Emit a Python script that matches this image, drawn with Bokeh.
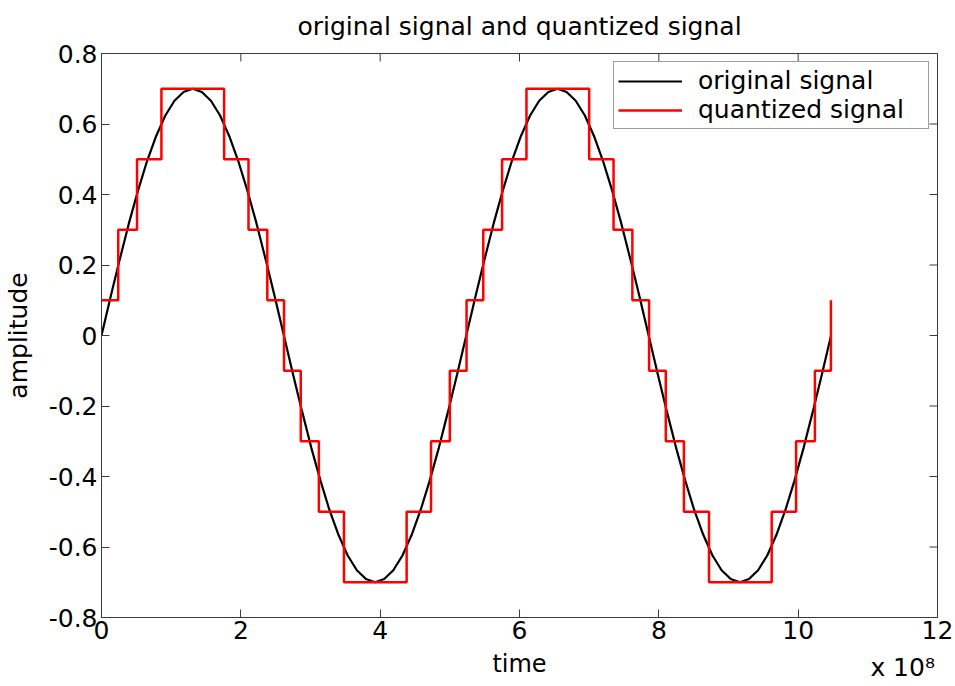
from bokeh.plotting import figure
from bokeh.models import FixedTicker, Range1d, LinearAxis
from bokeh.embed import file_html
from bokeh.resources import INLINE

# time axis in units of 1e8
time_1e8 = [0.000, 0.131, 0.262, 0.393, 0.524, 0.654, 0.785, 0.916, 1.047, 1.178,
            1.309, 1.440, 1.571, 1.702, 1.833, 1.963, 2.094, 2.225, 2.356, 2.487,
            2.618, 2.749, 2.880, 3.011, 3.142, 3.272, 3.403, 3.534, 3.665, 3.796,
            3.927, 4.058, 4.189, 4.320, 4.451, 4.581, 4.712, 4.843, 4.974, 5.105,
            5.236, 5.367, 5.498, 5.629, 5.760, 5.890, 6.021, 6.152, 6.283, 6.414,
            6.545, 6.676, 6.807, 6.938, 7.069, 7.199, 7.330, 7.461, 7.592, 7.723,
            7.854, 7.985, 8.116, 8.247, 8.378, 8.508, 8.639, 8.770, 8.901, 9.032,
            9.163, 9.294, 9.425, 9.556, 9.687, 9.817, 9.948, 10.079, 10.210, 10.341,
            10.472]
original_signal = [0.000, 0.110, 0.216, 0.318, 0.411, 0.495, 0.566, 0.624, 0.666, 0.691,
                   0.700, 0.691, 0.666, 0.624, 0.566, 0.495, 0.411, 0.318, 0.216, 0.110,
                   0.000, -0.110, -0.216, -0.318, -0.411, -0.495, -0.566, -0.624, -0.666, -0.691,
                   -0.700, -0.691, -0.666, -0.624, -0.566, -0.495, -0.411, -0.318, -0.216, -0.110,
                   0.000, 0.110, 0.216, 0.318, 0.411, 0.495, 0.566, 0.624, 0.666, 0.691,
                   0.700, 0.691, 0.666, 0.624, 0.566, 0.495, 0.411, 0.318, 0.216, 0.110,
                   0.000, -0.110, -0.216, -0.318, -0.411, -0.495, -0.566, -0.624, -0.666, -0.691,
                   -0.700, -0.691, -0.666, -0.624, -0.566, -0.495, -0.411, -0.318, -0.216, -0.110,
                   0.000]

step_time = [0.00, 0.24, 0.51, 0.86, 1.76, 2.11, 2.38, 2.62, 2.86, 3.12, 3.48, 4.38, 4.73, 5.00,
             5.24, 5.48, 5.75, 6.10, 7.00, 7.35, 7.62, 7.86, 8.10, 8.36, 8.72, 9.62, 9.97, 10.24,
             10.47]
step_level = [0.1, 0.3, 0.5, 0.7, 0.5, 0.3, 0.1, -0.1, -0.3, -0.5, -0.7, -0.5, -0.3, -0.1,
              0.1, 0.3, 0.5, 0.7, 0.5, 0.3, 0.1, -0.1, -0.3, -0.5, -0.7, -0.5, -0.3, -0.1,
              0.1]

x_ticks = [0, 2, 4, 6, 8, 10, 12]
y_ticks = [-0.8, -0.6, -0.4, -0.2, 0.0, 0.2, 0.4, 0.6, 0.8]
y_tick_labels = ["-0.8", "-0.6", "-0.4", "-0.2", "0", "0.2", "0.4", "0.6", "0.8"]
x_exponent_pos = 11.5
x_exponent_text = "x 10\u2078"

FONT = "DejaVu Sans"
FS = "25px"
AXC = "#3a3a3a"

p = figure(width=955, height=686, output_backend="svg", toolbar_location=None,
           x_range=Range1d(x_ticks[0], x_ticks[-1]), y_range=Range1d(y_ticks[0], y_ticks[-1]),
           min_border_left=101, min_border_right=18, min_border_top=53, min_border_bottom=69,
           title="original signal and quantized signal", y_axis_label="amplitude")
p.xgrid.visible = False
p.ygrid.visible = False
p.outline_line_color = AXC
p.outline_line_width = 1
p.background_fill_color = "white"
p.border_fill_color = "white"

p.title.text_font = FONT
p.title.text_font_size = FS
p.title.text_font_style = "normal"
p.title.text_color = "black"
p.title.align = "center"
p.title.vertical_align = "top"
p.title.standoff = 22

p.line(time_1e8, original_signal, line_color="black", line_width=2.2, legend_label="original signal")
p.step(step_time, step_level, mode="after", line_color="#ff0000", line_width=2.5,
       legend_label="quantized signal")

# inward ticks on the top and right edges of the box (outer half is clipped by the frame)
p.scatter(x_ticks, [y_ticks[-1]] * len(x_ticks), marker="dash", angle=1.5708, size=16,
          line_color=AXC, line_width=1)
p.scatter([x_ticks[-1]] * len(y_ticks), y_ticks, marker="dash", size=16,
          line_color=AXC, line_width=1)

for ax in (p.xaxis[0], p.yaxis[0]):
    ax.major_tick_in = 8
    ax.major_tick_out = 0
    ax.minor_tick_in = 0
    ax.minor_tick_out = 0
    ax.axis_line_color = AXC
    ax.major_tick_line_color = AXC
    ax.major_label_text_font = FONT
    ax.major_label_text_font_size = FS
    ax.major_label_text_color = "black"
    ax.axis_label_text_font = FONT
    ax.axis_label_text_font_style = "normal"
    ax.axis_label_text_color = "black"

xa = p.xaxis[0]
ya = p.yaxis[0]
xa.ticker = FixedTicker(ticks=x_ticks)
ya.ticker = FixedTicker(ticks=y_ticks)
ya.major_label_overrides = dict(zip(y_ticks, y_tick_labels))
xa.major_label_standoff = 3
ya.major_label_standoff = 4
ya.axis_label_text_font_size = FS
ya.axis_label_standoff = 13

# second row under the x axis: the "time" label and the "x 10^8" exponent note
xb = LinearAxis(ticker=FixedTicker(ticks=[x_exponent_pos]),
                major_label_overrides={x_exponent_pos: x_exponent_text},
                axis_label="time")
xb.axis_line_color = None
xb.major_tick_in = 0
xb.major_tick_out = 0
xb.minor_tick_in = 0
xb.minor_tick_out = 0
xb.major_label_standoff = 11
xb.major_label_text_font = FONT
xb.major_label_text_font_size = FS
xb.major_label_text_color = "black"
xb.axis_label_text_font = FONT
xb.axis_label_text_font_size = "24px"
xb.axis_label_text_font_style = "normal"
xb.axis_label_text_color = "black"
xb.axis_label_standoff = -35
p.add_layout(xb, "below")

lg = p.legend[0]
lg.location = "top_right"
lg.margin = 8
lg.padding = 4
lg.spacing = 0
lg.glyph_width = 64
lg.label_standoff = 16
lg.label_width = 226
lg.label_text_font = FONT
lg.label_text_font_size = FS
lg.label_text_color = "black"
lg.border_line_color = AXC
lg.border_line_width = 1
lg.background_fill_color = "white"
lg.background_fill_alpha = 1

open("out.html", "w").write(file_html(p, INLINE))
